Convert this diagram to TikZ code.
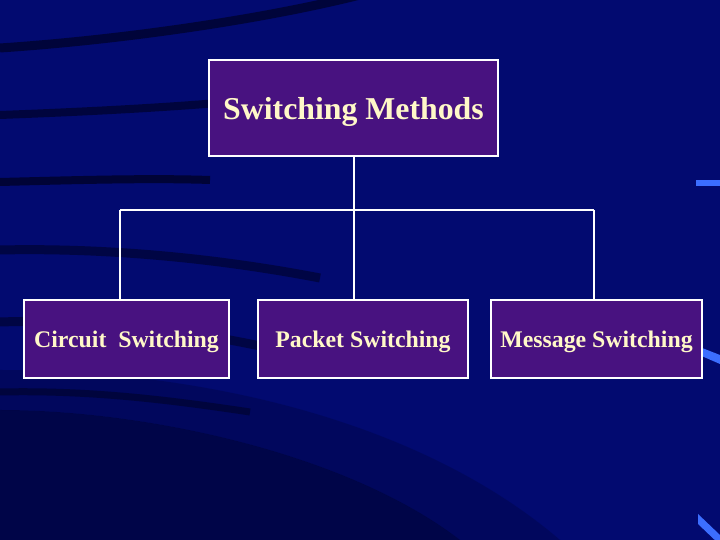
\documentclass[tikz,border=0pt]{standalone}
\usepackage{fontspec}
\setmainfont{Liberation Serif}
\definecolor{bgblue}{RGB}{2,10,112}
\definecolor{bgdark}{RGB}{0,2,40}
\definecolor{boxpurple}{RGB}{72,18,128}
\definecolor{txtcream}{RGB}{255,248,200}
\definecolor{streak}{RGB}{60,110,255}
\newcommand{\lowered}[2]{\raisebox{-#1}[\height][\depth]{#2}}
\tikzset{
  box/.style={draw=white, line width=1.6pt, fill=boxpurple, text=txtcream, font=\bfseries, inner sep=0pt, anchor=center},
  leaf/.style={box, minimum height=78pt, font=\bfseries\fontsize{23.8}{28}\selectfont},
  conn/.style={draw=white, line width=1.6pt},
}
\begin{document}
\begin{tikzpicture}[x=1pt,y=1pt]
\useasboundingbox (0,0) rectangle (720,540);
\fill[bgblue] (0,0) rectangle (720,540);
% dark swooshes
\begin{scope}
\clip (0,0) rectangle (720,540);
\fill[bgdark, opacity=0.55] (0,0) -- (0,130) .. controls (150,130) and (350,85) .. (460,0) -- cycle;
\fill[bgdark, opacity=0.25] (0,130) .. controls (150,130) and (350,85) .. (460,0) -- (560,0) .. controls (420,120) and (200,170) .. (0,170) -- cycle;
\draw[bgdark, line width=9pt, opacity=0.75] (0,492) .. controls (120,500) and (260,520) .. (360,545);
\draw[bgdark, line width=8pt, opacity=0.7] (0,425) .. controls (80,428) and (160,432) .. (230,438);
\draw[bgdark, line width=8pt, opacity=0.8] (0,358) .. controls (80,360) and (150,362) .. (210,360);
\draw[bgdark, line width=9pt, opacity=0.6] (0,290) .. controls (90,292) and (200,285) .. (320,262);
\draw[bgdark, line width=9pt, opacity=0.6] (0,218) .. controls (120,222) and (230,205) .. (360,170);
\draw[bgdark, line width=7pt, opacity=0.6] (0,148) .. controls (90,150) and (170,140) .. (250,128);
\fill[streak] (696,360) rectangle (720,354);
\fill[streak] (697,194) -- (720,185) -- (720,176) -- (697,186) -- cycle;
\fill[streak] (698,26) -- (720,5) -- (720,-5) -- (698,16) -- cycle;
\end{scope}
% nodes
\node[box, minimum width=289pt, minimum height=96pt, font=\bfseries\fontsize{31.8}{36}\selectfont] (top) at (353.5,432) {\lowered{4pt}{Switching Methods}};
\node[leaf, minimum width=205pt] (circ) at (126.5,201) {\lowered{3pt}{Circuit\ \ Switching}};
\node[leaf, minimum width=210pt] (pack) at (363,201) {\lowered{3pt}{Packet Switching}};
\node[leaf, minimum width=211pt] (msg) at (596.5,201) {\lowered{3pt}{Message Switching}};
% connectors
\coordinate (jn) at (354,330);
\coordinate (hl) at (120,330);
\coordinate (hr) at (594,330);
\draw[conn] (top.south -| jn) -- (jn);
\draw[conn] (hl) -- (hr);
\draw[conn] (hl) -- (hl |- circ.north);
\draw[conn] (jn) -- (jn |- pack.north);
\draw[conn] (hr) -- (hr |- msg.north);
\end{tikzpicture}
\end{document}
